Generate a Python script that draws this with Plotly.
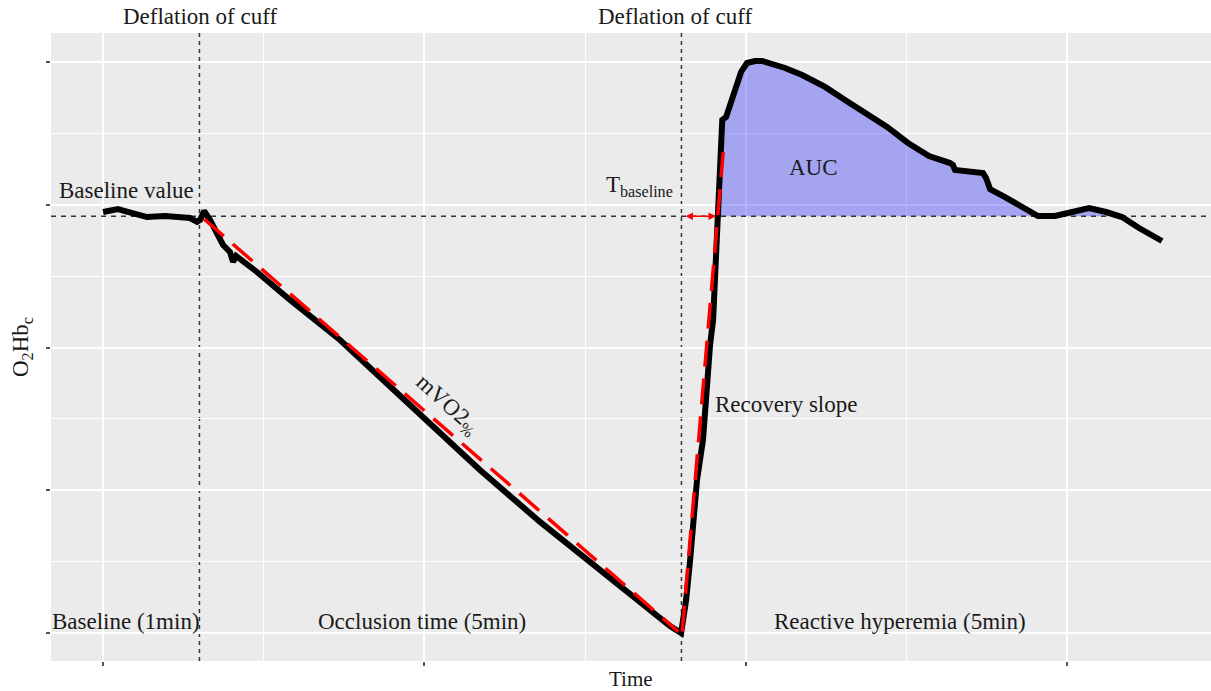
import numpy as np
import plotly.graph_objects as go

# ---- data (time in s, O2Hb in arbitrary tick units) ----
occl_t = [0, 4.4, 9.3, 13.7, 19.9, 27.4, 38.6, 47.9, 54.1, 58.5, 60.4, 62.9, 66.6, 74.7, 79.0,
          80.9, 82.8, 95.8, 116.4, 147.5, 191.1, 234.6, 272.0, 301.2, 328.0, 352.9, 359.8]
occl_y = [2.949, 2.963, 2.970, 2.956, 2.935, 2.914, 2.921, 2.914, 2.907, 2.880, 2.894, 2.956, 2.893,
          2.718, 2.669, 2.599, 2.641, 2.529, 2.333, 2.053, 1.597, 1.142, 0.778, 0.511, 0.266, 0.049, 0.0]
rec_t = [359.8, 362.9, 365.4, 369.7, 373.4, 375.9, 377.8, 379.7, 381.5, 382.8, 384.1, 384.7, 385.4,
         387.8, 390.3, 393.4, 397.1, 400.8, 405.8, 410.2, 415.1, 424.5, 435.1, 449.4, 461.8, 474.3,
         488.0, 501.0, 514.1, 527.2, 529.0, 530.3, 540.2, 547.7, 549.6, 552.1, 561.4, 571.4, 581.9,
         592.5, 603.1, 613.7, 624.3, 634.2, 644.8, 651.7, 659.1]
rec_y = [0.0, 0.231, 0.511, 1.072, 1.352, 1.772, 2.018, 2.193, 2.613, 2.942, 3.243, 3.524, 3.594,
         3.615, 3.699, 3.818, 3.930, 3.993, 4.007, 4.007, 3.993, 3.958, 3.909, 3.825, 3.734, 3.643,
         3.545, 3.433, 3.341, 3.292, 3.278, 3.243, 3.229, 3.222, 3.187, 3.110, 3.054, 2.984, 2.921,
         2.921, 2.949, 2.977, 2.949, 2.914, 2.837, 2.788, 2.746]
baseline_value = 2.92
cuff_times = [60, 360]
mvo2_fit_t = [62.9, 358.0]
mvo2_fit_y = [2.90, 0.01]
rec_fit_t = [360.5, 386.0]
rec_fit_y = [0.01, 3.37]
t_baseline = [361.6, 381.5]
x_ticks = [0, 200, 400, 600]
y_ticks = [0, 1, 2, 3, 4]
phase_labels = ["Baseline (1min)", "Occlusion time (5min)", "Reactive hyperemia (5min)"]
phase_x = [14.3, 198.5, 496]

FONT = "Liberation Serif"
TXT = "#1a1a1a"

rt = np.array(rec_t); ry = np.array(rec_y)
i0 = int(np.argmax(ry >= baseline_value))
xc = rt[i0 - 1] + (baseline_value - ry[i0 - 1]) * (rt[i0] - rt[i0 - 1]) / (ry[i0] - ry[i0 - 1])
fx = [xc] + list(rt[i0:]) + [rt[-1], xc]
fy = [baseline_value] + list(np.maximum(ry[i0:], baseline_value)) + [baseline_value, baseline_value]

all_t = occl_t + rec_t[1:]
all_y = occl_y + rec_y[1:]

xr = [-32.4, 689.6]
yr = [-0.196, 4.203]

fig = go.Figure()
fig.add_trace(go.Scatter(x=fx, y=fy, fill="toself", mode="none",
                         fillcolor="rgba(0,0,255,0.30)", hoverinfo="skip"))
fig.add_trace(go.Scatter(x=xr, y=[baseline_value, baseline_value], mode="lines",
                         line=dict(color="#333333", width=1.5, dash="5px,5px")))
fig.add_trace(go.Scatter(x=all_t, y=all_y, mode="lines",
                         line=dict(color="black", width=6, shape="linear")))
fig.add_trace(go.Scatter(x=mvo2_fit_t, y=mvo2_fit_y, mode="lines",
                         line=dict(color="#ff0000", width=3.5, dash="26px,12px")))
fig.add_trace(go.Scatter(x=rec_fit_t, y=rec_fit_y, mode="lines",
                         line=dict(color="#ff0000", width=3.5, dash="26px,12px")))

for ct in cuff_times:
    fig.add_shape(type="line", x0=ct, x1=ct, y0=0, y1=1, xref="x", yref="paper",
                  line=dict(color="#333333", width=1.5, dash="4px,4px"), layer="between")

ann = []
for ct, xs in zip(cuff_times, [1, -6]):
    ann.append(dict(x=ct, y=1, xref="x", yref="paper", yanchor="bottom", xshift=xs, yshift=2,
                    text="Deflation of cuff", showarrow=False))
ann += [
    dict(x=14.3, y=3.103, text="Baseline value", showarrow=False),
    dict(x=334, y=3.13, text="T<sub>baseline</sub>", showarrow=False),
    dict(x=442, y=3.264, text="AUC", showarrow=False),
    dict(x=214, y=1.597, text="mVO2<sub>%</sub>", showarrow=False, textangle=42),
    dict(x=425, y=1.604, text="Recovery slope", showarrow=False),
]
for lab, px in zip(phase_labels, phase_x):
    ann.append(dict(x=px, y=0.084, text=lab, showarrow=False))
ann.append(dict(x=t_baseline[1], y=baseline_value, ax=t_baseline[0], ay=baseline_value,
                xref="x", yref="y", axref="x", ayref="y", text="", showarrow=True,
                arrowside="end+start", arrowhead=2, arrowsize=1, arrowwidth=1.5,
                arrowcolor="#ff0000"))
for a in ann:
    a.setdefault("xref", "x"); a.setdefault("yref", "y")
    a["font"] = dict(family=FONT, size=23, color=TXT)
ann.append(dict(x=0.5, y=0, xref="paper", yref="paper", yanchor="middle", yshift=-18,
                text="Time", showarrow=False, font=dict(family=FONT, size=21, color=TXT)))
ann.append(dict(x=0, y=0.5, xref="paper", yref="paper", xanchor="center", yanchor="middle",
                xshift=-29, textangle=-90, text="O<sub>2</sub>Hb<sub>c</sub>", showarrow=False,
                font=dict(family=FONT, size=23, color=TXT)))

fig.update_layout(
    width=1211, height=691,
    margin=dict(l=51, r=0, t=33, b=30),
    paper_bgcolor="white", plot_bgcolor="#EBEBEB",
    showlegend=False, annotations=ann,
    xaxis=dict(range=xr, tickvals=x_ticks, showticklabels=False, ticks="outside",
               ticklen=4, tickcolor="#555555", tickwidth=1.5, showgrid=True,
               gridcolor="white", gridwidth=1.6, zeroline=False,
               minor=dict(dtick=100, tick0=0, showgrid=True, gridcolor="white", gridwidth=0.8)),
    yaxis=dict(range=yr, tickvals=y_ticks, showticklabels=False, ticks="outside",
               ticklen=4, tickcolor="#555555", tickwidth=1.5, showgrid=True,
               gridcolor="white", gridwidth=1.6, zeroline=False,
               minor=dict(dtick=0.5, tick0=0, showgrid=True, gridcolor="white", gridwidth=0.8)),
)
fig.write_html("out.html")
